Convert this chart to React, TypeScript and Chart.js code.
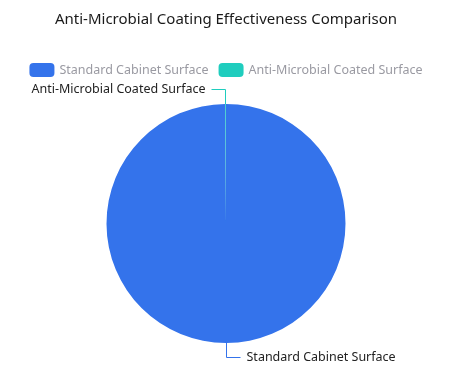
import React, { useEffect, useRef } from 'react';
import { Chart, registerables } from 'chart.js';

Chart.register(...registerables);

const TITLE = 'Anti-Microbial Coating Effectiveness Comparison';
const categories = ['Standard Cabinet Surface', 'Anti-Microbial Coated Surface'];
const values = [99.9, 0.1];
const colors = ['#3473EB', '#1FCDBE'];

const FONT = '"Noto Sans", sans-serif';

const overlay = {
  id: 'overlay',
  afterDraw(chart: any) {
    const ctx = chart.ctx as CanvasRenderingContext2D;
    ctx.save();
    // title
    ctx.font = `15px ${FONT}`;
    ctx.fillStyle = '#1a1a1a';
    ctx.textAlign = 'center';
    ctx.textBaseline = 'middle';
    ctx.fillText(TITLE, chart.width / 2, 19.5);

    // legend
    ctx.font = `12.5px ${FONT}`;
    const boxW = 25, boxH = 14, gap = 5, itemGap = 10;
    const widths = categories.map((c) => boxW + gap + ctx.measureText(c).width);
    const total = widths.reduce((a, b) => a + b, 0) + itemGap * (categories.length - 1);
    let x = chart.width / 2 - total / 2;
    const ly = 70;
    categories.forEach((c, i) => {
      ctx.fillStyle = colors[i];
      ctx.beginPath();
      (ctx as any).roundRect(x, ly - boxH / 2, boxW, boxH, 4);
      ctx.fill();
      ctx.fillStyle = '#9a9aa2';
      ctx.textAlign = 'left';
      ctx.fillText(c, x + boxW + gap, ly);
      x += widths[i] + itemGap;
    });

    // slice labels with leader lines
    const meta = chart.getDatasetMeta(0);
    meta.data.forEach((arc: any, i: number) => {
      const p = arc.getProps(['x', 'y', 'startAngle', 'endAngle', 'outerRadius'], true);
      const mid = (p.startAngle + p.endAngle) / 2;
      const cos = Math.cos(mid), sin = Math.sin(mid);
      const x0 = p.x + p.outerRadius * cos, y0 = p.y + p.outerRadius * sin;
      const x1 = Math.floor(p.x + (p.outerRadius + 15) * cos) + 0.5;
      const y1 = Math.floor(p.y + (p.outerRadius + 15) * sin) + 0.5;
      const dir = cos >= 0 ? 1 : -1;
      const x2 = x1 + dir * 14;
      ctx.strokeStyle = colors[i];
      ctx.lineWidth = 1;
      ctx.beginPath();
      ctx.moveTo(Math.floor(x0) + 0.5, y0);
      ctx.lineTo(x1, y1);
      ctx.lineTo(x2, y1);
      ctx.stroke();
      ctx.fillStyle = '#222';
      ctx.textAlign = dir > 0 ? 'left' : 'right';
      ctx.textBaseline = 'middle';
      ctx.fillText(categories[i], x2 + dir * 6, y1);
    });
    ctx.restore();
  },
};

export default function App() {
  const ref = useRef<HTMLCanvasElement | null>(null);
  useEffect(() => {
    if (!ref.current) return;
    const chart = new Chart(ref.current, {
      type: 'pie',
      data: {
        labels: categories,
        datasets: [
          {
            data: values,
            backgroundColor: colors,
            borderWidth: 0,
            hoverOffset: 0,
          },
        ],
      },
      options: {
        responsive: false,
        animation: false,
        devicePixelRatio: 1,
        radius: 119.5,
        layout: { padding: { top: 90, bottom: 28, left: 0, right: 0 } },
        plugins: {
          legend: { display: false },
          title: { display: false },
          tooltip: { enabled: false },
        },
      } as any,
      plugins: [overlay],
    });
    return () => chart.destroy();
  }, []);
  return (
    <div style={{ position: 'fixed', left: 0, top: 0, width: 452, height: 385, background: '#fff' }}>
      <canvas ref={ref} width={452} height={385} style={{ width: 452, height: 385, display: 'block' }} />
    </div>
  );
}
